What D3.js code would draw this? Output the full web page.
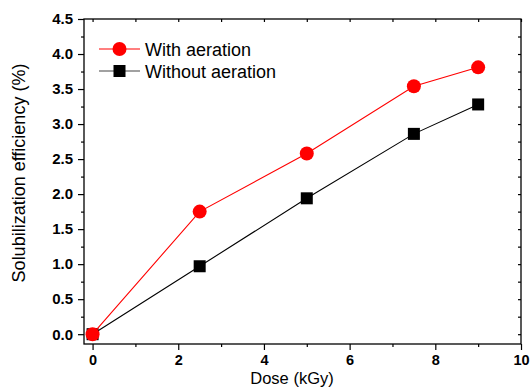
<!DOCTYPE html>
<html>
<head>
<meta charset="utf-8">
<script src="https://cdn.jsdelivr.net/npm/d3@7"></script>
<style>
  html, body { margin: 0; padding: 0; background: #fff; }
  svg { display: block; }
  text { font-family: Arial, "Liberation Sans", sans-serif; }
</style>
</head>
<body>
<svg id="chart" width="531" height="387"></svg>
<script>
// Dose in kGy
const dose = [0, 2.5, 5, 7.5, 9];
// Solubilization efficiency (%)
const withAeration = [0, 1.75, 2.58, 3.54, 3.81];
const withoutAeration = [0, 0.97, 1.94, 2.86, 3.28];
const seriesNames = ["With aeration", "Without aeration"];
const xTicks = [0, 2, 4, 6, 8, 10];
const yTicks = [0, 0.5, 1, 1.5, 2, 2.5, 3, 3.5, 4, 4.5];

const svg = d3.select("#chart");
const plotLeft = 84, plotRight = 521, plotTop = 19, plotBottom = 344;

const x = d3.scaleLinear().domain([-0.2, 10]).range([plotLeft, plotRight]);
const y = d3.scaleLinear().domain([-0.14, 4.5]).range([plotBottom, plotTop]);

const xMinor = d3.range(1, 10, 2);
const yMinor = d3.range(0.25, 4.5, 0.5);

// frame
svg.append("rect")
  .attr("x", plotLeft).attr("y", plotTop)
  .attr("width", plotRight - plotLeft).attr("height", plotBottom - plotTop)
  .attr("fill", "none").attr("stroke", "#000").attr("stroke-width", 1.3);

function styleAxis(g) {
  g.select(".domain").remove();
  g.selectAll("line").attr("stroke", "#000").attr("stroke-width", 1.2);
}

// bottom axis: outward ticks, bold labels
const gx = svg.append("g").attr("transform", `translate(0,${plotBottom})`)
  .call(d3.axisBottom(x).tickValues(xTicks).tickFormat(d3.format("d")).tickSize(6).tickPadding(5));
styleAxis(gx);
gx.selectAll("text").attr("font-size", 14.5).attr("font-weight", "bold").attr("fill", "#000");
svg.append("g").attr("transform", `translate(0,${plotBottom})`)
  .call(d3.axisBottom(x).tickValues(xMinor).tickFormat("").tickSize(3)).call(styleAxis);

// left axis
const gy = svg.append("g").attr("transform", `translate(${plotLeft},0)`)
  .call(d3.axisLeft(y).tickValues(yTicks).tickFormat(d3.format(".1f")).tickSize(6).tickPadding(5));
styleAxis(gy);
gy.selectAll("text").attr("font-size", 15).attr("font-weight", "bold").attr("fill", "#000");
svg.append("g").attr("transform", `translate(${plotLeft},0)`)
  .call(d3.axisLeft(y).tickValues(yMinor).tickFormat("").tickSize(3)).call(styleAxis);

// top and right axes: inward ticks, no labels
svg.append("g").attr("transform", `translate(0,${plotTop})`)
  .call(d3.axisBottom(x).tickValues(d3.range(0, 11, 1)).tickFormat("").tickSize(3)).call(styleAxis);
svg.append("g").attr("transform", `translate(${plotRight},0)`)
  .call(d3.axisLeft(y).tickValues(d3.range(0, 4.5, 0.25)).tickFormat("").tickSize(3)).call(styleAxis);

// axis titles
svg.append("text")
  .attr("x", 292).attr("y", 383.5)
  .attr("text-anchor", "middle").attr("font-size", 16.5)
  .text("Dose (kGy)");
svg.append("text")
  .attr("transform", "translate(25,173) rotate(-90)")
  .attr("text-anchor", "middle").attr("font-size", 18)
  .text("Solubilization efficiency (%)");

const line = d3.line().x(d => x(d[0])).y(d => y(d[1]));
const series = [
  { name: seriesNames[1], values: withoutAeration, color: "#000", legendLine: "#444", shape: "square" },
  { name: seriesNames[0], values: withAeration, color: "#ff0000", legendLine: "#ff0000", shape: "circle" }
];

function drawMarker(g, shape, color, cx, cy) {
  if (shape === "circle") {
    g.append("circle").attr("cx", cx).attr("cy", cy).attr("r", 7).attr("fill", color);
  } else {
    g.append("rect").attr("x", cx - 6).attr("y", cy - 6).attr("width", 12).attr("height", 12).attr("fill", color);
  }
}

series.forEach(s => {
  const pts = dose.map((d, i) => [d, s.values[i]]);
  svg.append("path").datum(pts)
    .attr("d", line).attr("fill", "none")
    .attr("stroke", s.color).attr("stroke-width", 1.1);
  const g = svg.append("g");
  pts.forEach(p => drawMarker(g, s.shape, s.color, x(p[0]), y(p[1])));
});

// legend
const legend = svg.append("g");
[series[1], series[0]].forEach((s, i) => {
  const ly = 49 + i * 22;
  legend.append("line")
    .attr("x1", 99).attr("x2", 140).attr("y1", ly).attr("y2", ly)
    .attr("stroke", s.legendLine).attr("stroke-width", 1.2);
  drawMarker(legend, s.shape, s.color, 119.5, ly);
  legend.append("text")
    .attr("x", 145).attr("y", ly + 6.5)
    .attr("font-size", 18).attr("fill", "#000")
    .text(s.name);
});
</script>
</body>
</html>
